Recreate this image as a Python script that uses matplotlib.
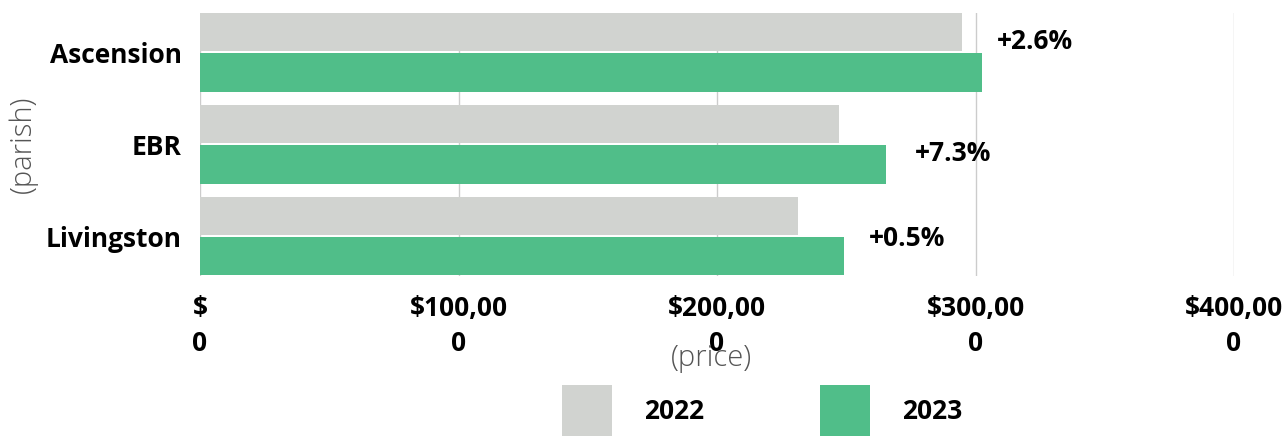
import matplotlib.pyplot as plt
import numpy as np

parishes = ["Ascension", "EBR", "Livingston"]
price_2022 = [294800, 247300, 231500]
price_2023 = [302400, 265400, 249200]
changes = ["+2.6%", "+7.3%", "+0.5%"]
ticks = [0, 100000, 200000, 300000, 400000]
tick_labels = ["$\n0", "$100,00\n0", "$200,00\n0", "$300,00\n0", "$400,00\n0"]

gray = "#d1d3d0"
green = "#50be89"

plt.rcParams['font.family'] = ['Open Sans', 'DejaVu Sans']

fig = plt.figure(figsize=(12.85, 4.36), dpi=100)
ax = fig.add_axes([200 / 1285, 1 - 275.5 / 436, 1034 / 1285, 262.5 / 436])

y = np.arange(len(parishes))
h = 0.415
ax.barh(y - 0.22, price_2022, height=h, color=gray, label="2022", zorder=2)
ax.barh(y + 0.22, price_2023, height=h, color=green, label="2023", zorder=2)

# percentage labels, nudged a little per row like the original
nudge_x = [11, 21, 18]
nudge_y = [8, -7, -2]
for i, txt in enumerate(changes):
    ax.annotate(txt, (price_2023[i], y[i]), xytext=(nudge_x[i], nudge_y[i]),
                textcoords="offset points", ha="left", va="center",
                fontsize=19, fontweight="bold", color="black")

ax.set_xlim(0, 400000)
ax.set_ylim(2.4275, -0.4275)
ax.set_xticks(ticks)
ax.set_xticklabels(tick_labels, fontsize=19, fontweight="bold", linespacing=1.4)
ax.set_yticks(y)
ax.set_yticklabels(parishes, fontsize=19, fontweight="bold")
ax.tick_params(axis="x", length=0, pad=14)
ax.tick_params(axis="y", length=0, pad=13)
ax.grid(axis="x", color="#cccccc", linewidth=1, zorder=0)
for s in ax.spines.values():
    s.set_visible(False)

ax.set_xlabel("(price)", fontsize=21, fontweight="light", color="#555555")
ax.xaxis.set_label_coords((711 - 200) / 1034, -0.258)
ax.set_ylabel("(parish)", fontsize=21, fontweight="light", color="#555555")
ax.yaxis.set_label_coords(-0.157, 0.5)

fig.legend(loc="center", bbox_to_anchor=(762 / 1285, 1 - 411 / 436), ncol=2,
           frameon=False, prop={"weight": "bold", "size": 19},
           handlelength=1.9, handleheight=2.6, handletextpad=1.2,
           columnspacing=4.4, borderpad=0)

fig.savefig("out.png", dpi=100)
